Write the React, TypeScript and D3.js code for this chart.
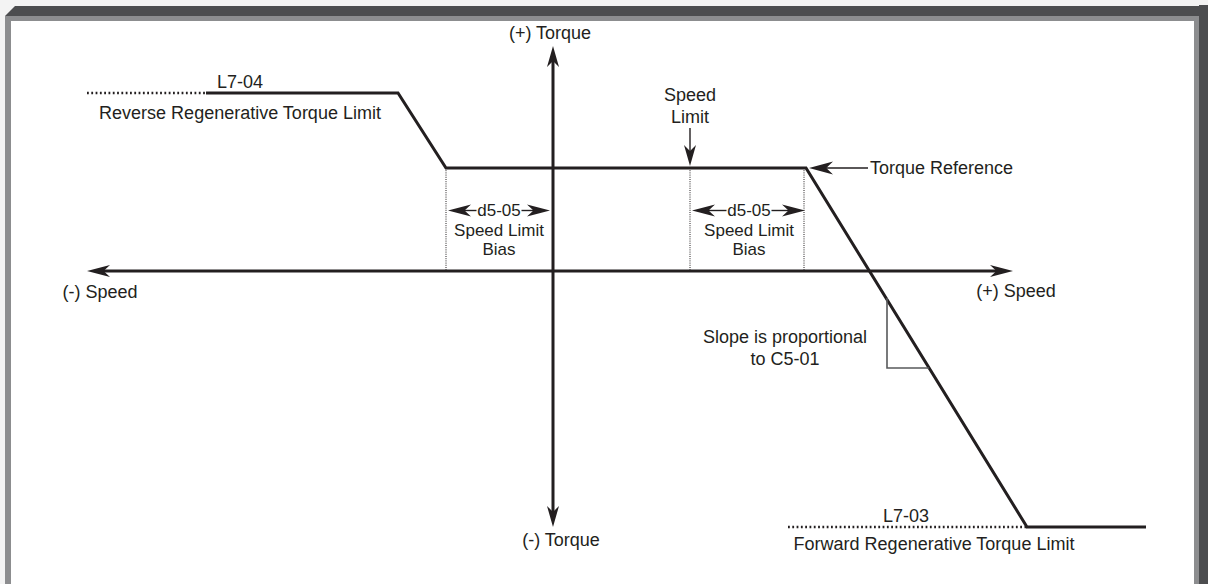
import React from "react";
import * as d3 from "d3";

// canvas
const width = 1208;
const height = 584;

// values (speed on x, torque on y, arbitrary units)
const speedExtent = [-466, 460]; // tips of the speed axis arrows
const torqueExtent = [-256, 225]; // tips of the torque axis arrows
const reverseLimit = 178; // L7-04
const forwardLimit = -256; // L7-03
const speedLimit = 137;
const biasStartLeft = -107;
const biasEndRight = 253;

// torque reference curve
const refSpeed = [-347, -155, -107, 253, 474, 593];
const refTorque = [178, 178, 103, 103, -256, -256];
// dotted continuations of the limit levels
const reverseDotSpeed = [-466, -347];
const forwardDotSpeed = [235, 474];
// slope triangle
const triSpeed = [334, 334, 376];
const triTorque = [-27, -97, -97];

const ink = "#231f20";
const font = "'Liberation Sans', Arial, Helvetica, sans-serif";

const xScale = d3.scaleLinear().domain(speedExtent).range([87, 1013]);
const yScale = d3.scaleLinear().domain(torqueExtent).range([527, 46]);

const line = d3
  .line<number[]>()
  .x((d) => xScale(d[0]))
  .y((d) => yScale(d[1]));

function Head({ x, y, angle, len = 22, hw = 6.5 }: any) {
  return (
    <path
      transform={`translate(${x},${y}) rotate(${angle})`}
      d={`M0,0L${-len},${-hw}L${-len * 0.72},0L${-len},${hw}Z`}
      fill={ink}
    />
  );
}

function Label({ x, y, children, anchor = "middle", size = 18 }: any) {
  return (
    <text x={x} y={y} textAnchor={anchor} fontSize={size} fontFamily={font} fill={ink}>
      {children}
    </text>
  );
}

export default function App() {
  const x0 = xScale(0);
  const y0 = yScale(0);
  const yRef = yScale(103);
  const refPts = refSpeed.map((s, i) => [s, refTorque[i]]);
  const triPts = triSpeed.map((s, i) => [s, triTorque[i]]);

  const bias = (a: number, b: number, cx: number) => {
    const ya = 210.5;
    const tw = 22.5;
    return (
      <g>
        <line x1={a + 10} x2={cx - tw} y1={ya} y2={ya} stroke={ink} strokeWidth={1.4} />
        <line x1={cx + tw} x2={b - 10} y1={ya} y2={ya} stroke={ink} strokeWidth={1.4} />
        <Head x={a} y={ya} angle={180} len={23} hw={6} />
        <Head x={b} y={ya} angle={0} len={23} hw={6} />
        <Label x={cx} y={216} size={17}>d5-05</Label>
        <Label x={cx} y={235.5} size={17}>Speed Limit</Label>
        <Label x={cx} y={255} size={17}>Bias</Label>
      </g>
    );
  };

  return (
    <svg
      width={width}
      height={height}
      style={{ position: "absolute", left: 0, top: 0, background: "#fff" }}
    >
      {/* frame */}
      <rect x={0} y={0} width={width} height={height} fill="#f3f3f3" />
      <rect x={11} y={21} width={1183} height={height - 21} fill="#fff" />
      <rect x={5} y={16} width={6} height={height - 16} fill="#8c8d8f" />
      <rect x={11} y={16} width={1188} height={5} fill="#8c8d8f" />
      <rect x={1194} y={16} width={5} height={height - 16} fill="#8c8d8f" />
      <polygon points={`5,16 15,6 ${width},6 ${width},16`} fill="#4c4d4f" />
      <rect x={1199} y={5} width={9} height={height - 5} fill="#4c4d4f" />

      {/* bias boundaries */}
      {[biasStartLeft, speedLimit, biasEndRight].map((s) => (
        <line
          key={s}
          x1={xScale(s) - (s === biasEndRight ? 2 : 0)}
          x2={xScale(s) - (s === biasEndRight ? 2 : 0)}
          y1={yRef}
          y2={y0}
          stroke={ink}
          strokeWidth={1}
          strokeDasharray="1 1.2"
        />
      ))}

      {/* axes */}
      <line x1={xScale(speedExtent[0]) + 12} x2={xScale(speedExtent[1]) - 12} y1={y0} y2={y0} stroke={ink} strokeWidth={3} />
      <Head x={xScale(speedExtent[0])} y={y0} angle={180} len={23} hw={6} />
      <Head x={xScale(speedExtent[1])} y={y0} angle={0} len={23} hw={6} />
      <line x1={x0} x2={x0} y1={yScale(torqueExtent[1]) + 12} y2={yScale(torqueExtent[0]) - 12} stroke={ink} strokeWidth={3} />
      <Head x={x0} y={yScale(torqueExtent[1])} angle={-90} len={21} hw={6} />
      <Head x={x0} y={yScale(torqueExtent[0])} angle={90} len={21} hw={6} />

      {/* limit dotted levels */}
      <path
        d={line(reverseDotSpeed.map((s) => [s, reverseLimit])) as string}
        stroke={ink}
        strokeWidth={2.4}
        strokeDasharray="1.8 2.5"
        fill="none"
      />
      <path
        d={line(forwardDotSpeed.map((s) => [s, forwardLimit])) as string}
        stroke={ink}
        strokeWidth={2.4}
        strokeDasharray="1.8 2.5"
        fill="none"
      />

      {/* torque reference */}
      <path d={line(refPts) as string} stroke={ink} strokeWidth={3} fill="none" strokeLinejoin="miter" />

      {/* slope triangle */}
      <path d={line(triPts) as string} stroke="#58595b" strokeWidth={1.6} fill="none" />

      {/* speed limit arrow */}
      <line x1={xScale(speedLimit)} x2={xScale(speedLimit)} y1={128} y2={155} stroke={ink} strokeWidth={1.4} />
      <Head x={xScale(speedLimit)} y={yRef - 2} angle={90} len={21} hw={6} />

      {/* torque reference arrow */}
      <line x1={xScale(biasEndRight) + 14} x2={868} y1={yRef} y2={yRef} stroke={ink} strokeWidth={1.4} />
      <Head x={xScale(biasEndRight) + 3} y={yRef} angle={180} len={24} hw={6.5} />

      {bias(xScale(biasStartLeft) + 2, x0 - 3, 499)}
      {bias(xScale(speedLimit) + 2, xScale(biasEndRight) - 1, 749)}

      {/* labels */}
      <Label x={550} y={39}>(+) Torque</Label>
      <Label x={561} y={546}>(-) Torque</Label>
      <Label x={100} y={298}>(-) Speed</Label>
      <Label x={1016} y={297}>(+) Speed</Label>
      <Label x={240} y={88}>L7-04</Label>
      <Label x={240} y={119}>Reverse Regenerative Torque Limit</Label>
      <Label x={690} y={100.5}>Speed</Label>
      <Label x={690} y={122.5}>Limit</Label>
      <Label x={870} y={174} anchor="start">Torque Reference</Label>
      <Label x={785} y={343}>Slope is proportional</Label>
      <Label x={785} y={365}>to C5-01</Label>
      <Label x={906} y={522}>L7-03</Label>
      <Label x={934} y={550}>Forward Regenerative Torque Limit</Label>
    </svg>
  );
}
